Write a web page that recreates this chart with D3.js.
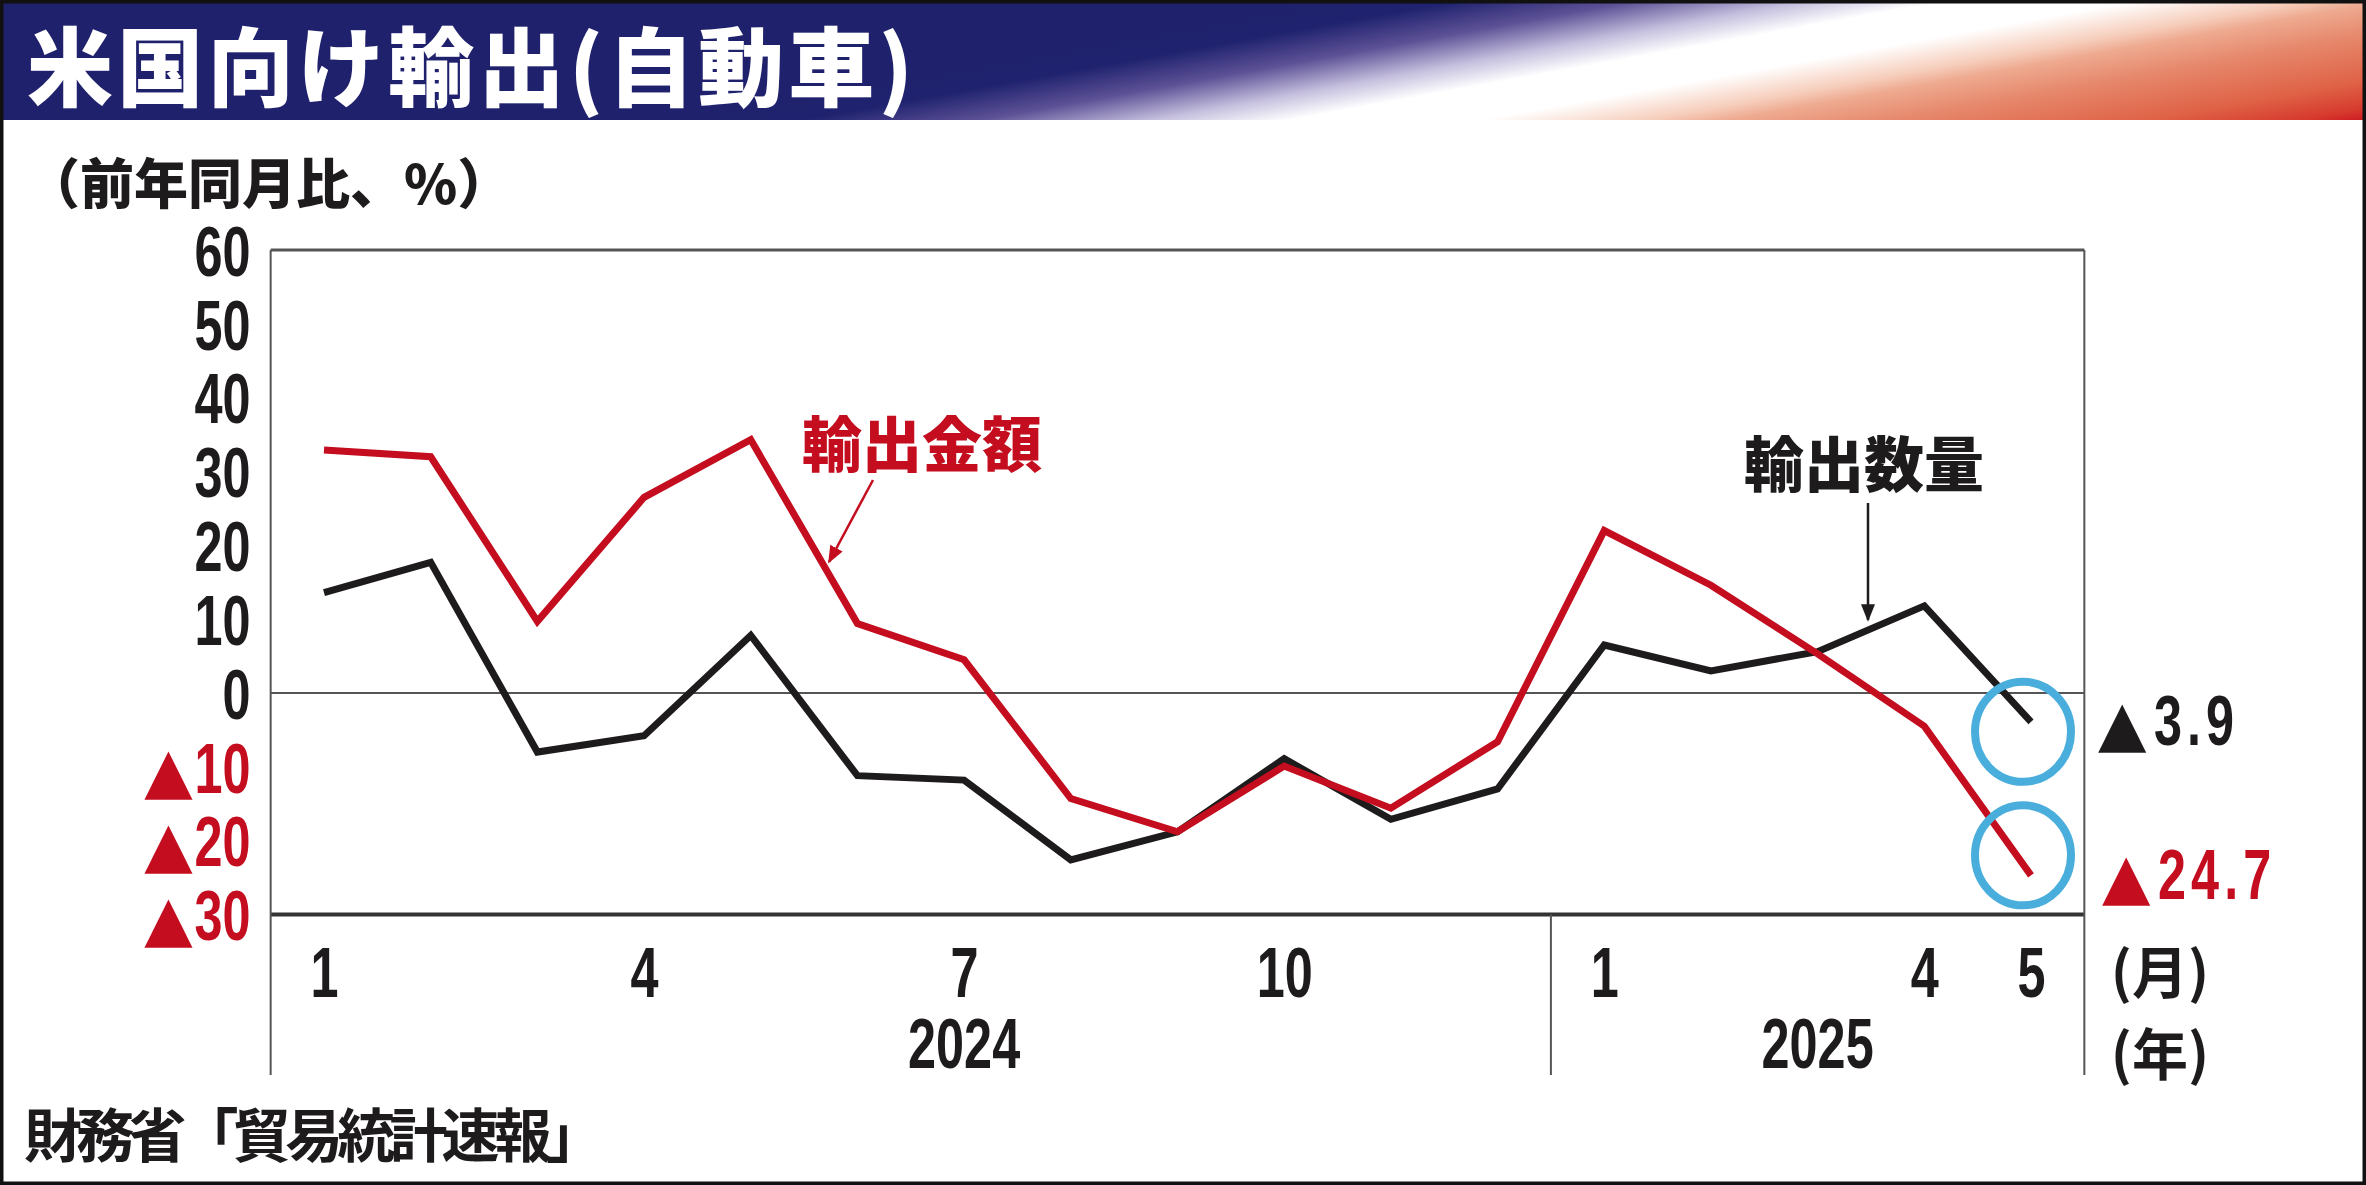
<!DOCTYPE html>
<html>
<head>
<meta charset="utf-8">
<script src="https://cdn.jsdelivr.net/npm/d3@7"></script>
<style>
  body { margin: 0; background: #fff; }
  svg { display: block; }
</style>
</head>
<body>
<script>
// 米国向け輸出(自動車) 前年同月比、%  2024/1 - 2025/5
const months = ["2024-01","2024-02","2024-03","2024-04","2024-05","2024-06","2024-07","2024-08",
  "2024-09","2024-10","2024-11","2024-12","2025-01","2025-02","2025-03","2025-04","2025-05"];
const amountYoY = [32.9, 32.0, 9.7, 26.5, 34.3, 9.4, 4.5, -14.3, -18.8, -9.9, -15.6, -6.6,
  22.0, 14.6, 5.3, -4.5, -24.7];
const volumeYoY = [13.6, 17.7, -8.0, -5.8, 7.8, -11.2, -11.8, -22.6, -18.8, -8.9, -17.1, -13.0,
  6.5, 3.0, 5.6, 11.8, -3.9];
const yTicks = [60, 50, 40, 30, 20, 10, 0, -10, -20, -30];
const monthTicks = [0, 3, 6, 9, 12, 15, 16];
const monthTickLabels = ["1", "4", "7", "10", "1", "4", "5"];
const yearLabels = ["2024", "2025"];
const yearLabelAt = [6, 14];

const W = 2366, H = 1185;
const RED = "#c40d1e", INK = "#1e1b1c", BLUE = "#4aaedd";
const numFont = "'Liberation Sans',Arial,sans-serif";
const jpFont = "'Noto Sans CJK JP','Noto Sans CJK SC',sans-serif";
const SX = 0.72;       // condensed look of the digits
const NUM_SIZE = 70;

const svg = d3.select("body").append("svg").attr("width", W).attr("height", H);

// squeeze a digit text horizontally (keeps its anchor)
function squeeze(sel) {
  sel.each(function () {
    const w = this.getComputedTextLength();
    d3.select(this).attr("textLength", w * SX).attr("lengthAdjust", "spacingAndGlyphs");
  });
}
function numStyle(sel, color) {
  sel.attr("font-family", numFont).attr("font-weight", 700)
    .attr("font-size", NUM_SIZE).attr("fill", color);
}
function triangle(parent, x, y, color, anchor) {
  return parent.append("text").attr("x", x).attr("y", y)
    .attr("text-anchor", anchor).attr("dy", 25)
    .attr("font-family", "'DejaVu Sans',sans-serif").attr("font-size", 63)
    .attr("fill", color).text("▲");
}

// ---- title band with diagonal gradient
const k = 645 / 117;   // slant of the colour bands
const P = u => [u / (1 + k * k), 120 + k * u / (1 + k * k)];
const u0 = 600, u1 = 2400;
const grad = svg.append("defs").append("linearGradient")
  .attr("id", "band").attr("gradientUnits", "userSpaceOnUse")
  .attr("x1", P(u0)[0]).attr("y1", P(u0)[1])
  .attr("x2", P(u1)[0]).attr("y2", P(u1)[1]);
[[600,"#1f216c"],[800,"#1f226e"],[980,"#5d5196"],[1150,"#c4bedd"],[1290,"#ffffff"],
 [1480,"#ffffff"],[1650,"#f6cdbb"],[1730,"#eeaa90"],[1900,"#e6876b"],[2150,"#df6246"],
 [2300,"#d63a2d"],[2400,"#c70a1e"]].forEach(([u, c]) => {
  grad.append("stop").attr("offset", (u - u0) / (u1 - u0)).attr("stop-color", c);
});
svg.append("rect").attr("x", 0).attr("y", 0).attr("width", W).attr("height", 120)
  .attr("fill", "url(#band)");

svg.append("text").attr("x", 27).attr("y", 62)
  .attr("dominant-baseline", "central")
  .attr("font-family", jpFont).attr("font-weight", 900).attr("font-size", 86)
  .attr("fill", "#fff")
  .attr("textLength", 886).attr("lengthAdjust", "spacing")
  .text("米国向け輸出(自動車)");

// ---- scales
const x = d3.scaleLinear().domain([0, 16]).range([324, 2031]);
const y = d3.scaleLinear().domain([-30, 60]).range([914.5, 250]);
const pLeft = x(-0.5), pRight = x(16.5), pTop = y(60), pBottom = y(-30);
const baseY = 1075;

svg.append("text").attr("x", 26).attr("y", 180)
  .attr("dominant-baseline", "central")
  .attr("font-family", jpFont).attr("font-weight", 900).attr("font-size", 54)
  .attr("fill", INK)
  .text("（前年同月比、%）");

// frame
svg.append("line").attr("x1", pLeft).attr("x2", pRight).attr("y1", pTop).attr("y2", pTop)
  .attr("stroke", "#555").attr("stroke-width", 3);
svg.append("line").attr("x1", pLeft).attr("x2", pRight).attr("y1", y(0)).attr("y2", y(0))
  .attr("stroke", "#555").attr("stroke-width", 2);
svg.append("line").attr("x1", pLeft).attr("x2", pRight).attr("y1", pBottom).attr("y2", pBottom)
  .attr("stroke", "#333").attr("stroke-width", 4);
[[pLeft, pTop], [pRight, pTop], [x(11.5), pBottom]].forEach(([xx, y0]) => {
  svg.append("line").attr("x1", xx).attr("x2", xx).attr("y1", y0).attr("y2", baseY)
    .attr("stroke", "#555").attr("stroke-width", 2);
});

// y axis
const yPad = 20;
const yAxis = svg.append("g").attr("transform", `translate(${pLeft},0)`)
  .call(d3.axisLeft(y).tickValues(yTicks).tickSize(0).tickPadding(yPad)
    .tickFormat(d => Math.abs(d)));
yAxis.select(".domain").remove();
yAxis.selectAll(".tick text").each(function (d) {
  const t = d3.select(this);
  const c = d < 0 ? RED : INK;
  numStyle(t, c);
  t.attr("dy", "0.36em");
  squeeze(t);
  if (d < 0) {
    const w = this.getComputedTextLength();
    triangle(d3.select(this.parentNode), -yPad - w - 2, 0, c, "end");
  }
});

// x axis
const xAxis = svg.append("g").attr("transform", `translate(0,${pBottom})`)
  .call(d3.axisBottom(x).tickValues(monthTicks).tickSize(0).tickPadding(33)
    .tickFormat((d, i) => monthTickLabels[i]));
xAxis.select(".domain").remove();
xAxis.selectAll(".tick text").call(numStyle, INK).call(squeeze);

svg.selectAll(".year").data(yearLabels).enter().append("text")
  .attr("class", "year")
  .attr("x", (d, i) => x(yearLabelAt[i])).attr("y", 1044)
  .attr("text-anchor", "middle").attr("dominant-baseline", "central")
  .call(numStyle, INK).text(d => d)
  .call(squeeze);

[["(月)", 968], ["(年)", 1050]].forEach(([t, yy]) => {
  svg.append("text").attr("x", 2160).attr("y", yy)
    .attr("text-anchor", "middle").attr("dominant-baseline", "central")
    .attr("font-family", jpFont).attr("font-weight", 700).attr("font-size", 56)
    .attr("fill", INK).text(t);
});

// ---- lines
const line = d3.line().x((d, i) => x(i)).y(d => y(d));
svg.append("path").datum(volumeYoY).attr("d", line)
  .attr("fill", "none").attr("stroke", INK).attr("stroke-width", 7)
  .attr("stroke-linejoin", "miter");
svg.append("path").datum(amountYoY).attr("d", line)
  .attr("fill", "none").attr("stroke", RED).attr("stroke-width", 7)
  .attr("stroke-linejoin", "miter");

// ---- highlight circles & end labels
const last = months.length - 1;
[[volumeYoY[last], 10], [amountYoY[last], -20]].forEach(([v, off]) => {
  svg.append("ellipse").attr("cx", x(last) - 8).attr("cy", y(v) + off)
    .attr("rx", 48).attr("ry", 50)
    .attr("fill", "none").attr("stroke", BLUE).attr("stroke-width", 8);
});
[[volumeYoY[last], INK, 2098], [amountYoY[last], RED, 2102]].forEach(([v, c, xx]) => {
  triangle(svg, xx, y(v) - 2, c, "start");
  svg.append("text").attr("x", xx + 56).attr("y", y(v) - 2)
    .attr("dy", "0.36em").call(numStyle, c)
    .attr("letter-spacing", 7)
    .text((-v).toFixed(1)).call(squeeze);
});

// ---- series callouts
svg.append("defs").html(`
  <marker id="ahR" viewBox="0 0 10 10" refX="9" refY="5" markerWidth="7" markerHeight="7" orient="auto">
    <path d="M0,1 L10,5 L0,9 Z" fill="${RED}"/></marker>
  <marker id="ahK" viewBox="0 0 10 10" refX="9" refY="5" markerWidth="7" markerHeight="7" orient="auto">
    <path d="M0,1 L10,5 L0,9 Z" fill="${INK}"/></marker>`);

svg.append("text").attr("x", 922).attr("y", 440)
  .attr("text-anchor", "middle").attr("dominant-baseline", "central")
  .attr("font-family", jpFont).attr("font-weight", 900).attr("font-size", 60)
  .attr("fill", RED).text("輸出金額");
svg.append("line").attr("x1", 873).attr("y1", 480).attr("x2", 829).attr("y2", 562)
  .attr("stroke", RED).attr("stroke-width", 2.5).attr("marker-end", "url(#ahR)");

svg.append("text").attr("x", 1864).attr("y", 460)
  .attr("text-anchor", "middle").attr("dominant-baseline", "central")
  .attr("font-family", jpFont).attr("font-weight", 900).attr("font-size", 60)
  .attr("fill", INK).text("輸出数量");
svg.append("line").attr("x1", 1868).attr("y1", 503).attr("x2", 1868).attr("y2", 620)
  .attr("stroke", INK).attr("stroke-width", 2.5).attr("marker-end", "url(#ahK)");

// ---- source
svg.append("text").attr("x", 24).attr("y", 1132)
  .attr("dominant-baseline", "central")
  .attr("font-family", jpFont).attr("font-weight", 700).attr("font-size", 58)
  .attr("fill", INK).attr("textLength", 580).attr("lengthAdjust", "spacing")
  .text("財務省「貿易統計速報」");

// outer frame
svg.append("rect").attr("x", 1.5).attr("y", 1.5).attr("width", W - 3).attr("height", H - 3)
  .attr("fill", "none").attr("stroke", "#111").attr("stroke-width", 4);
</script>
</body>
</html>
